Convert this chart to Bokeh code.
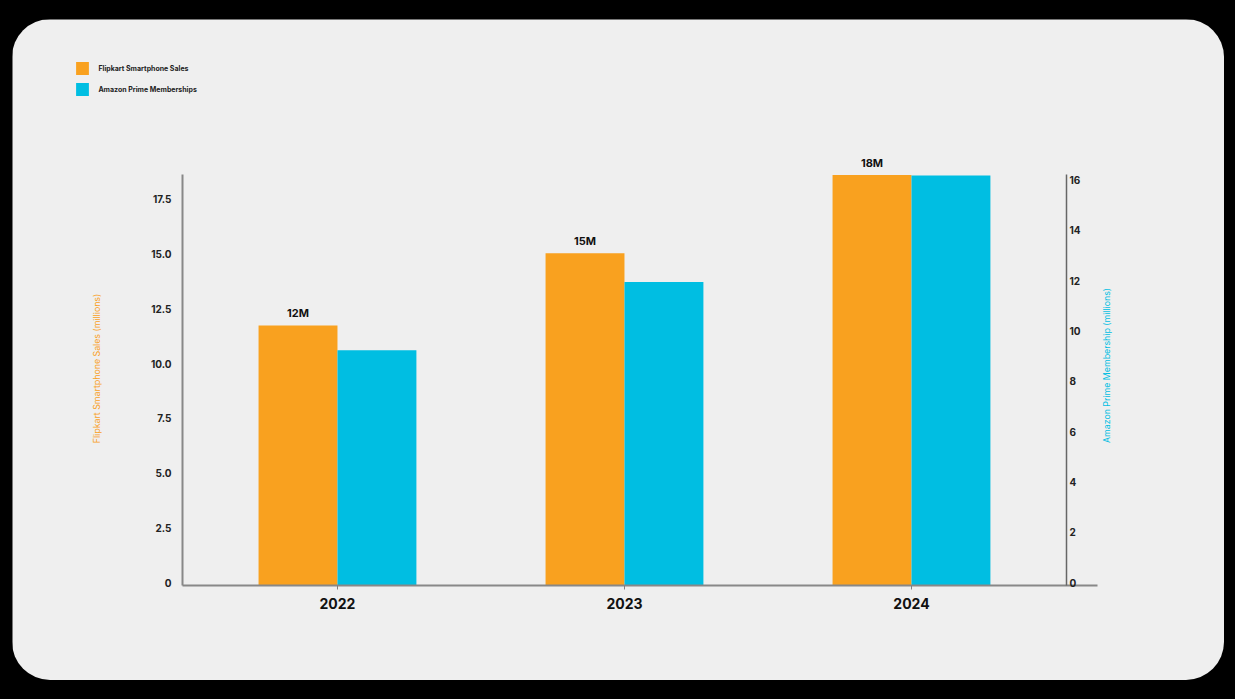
from math import pi
from bokeh.plotting import figure
from bokeh.models import (ColumnDataSource, Range1d, LinearAxis, FixedTicker, Legend,
                          LegendItem, LabelSet, Label, GlobalInlineStyleSheet)
from bokeh.core.properties import value
from bokeh.transform import dodge
from bokeh.embed import file_html
from bokeh.resources import INLINE

# ---------------- data ----------------
years = ["2022", "2023", "2024"]
flipkart_sales = [11.88, 15.18, 18.75]      # millions (left axis)
prime_members = [9.35, 12.07, 16.3]         # millions (right axis)
value_labels = ["12M", "15M", "18M"]
left_ticks = [0, 2.5, 5, 7.5, 10, 12.5, 15, 17.5]
left_tick_labels = ["0", "2.5", "5.0", "7.5", "10.0", "12.5", "15.0", "17.5"]
right_ticks = [0, 2, 4, 6, 8, 10, 12, 14, 16]
right_tick_labels = ["0", "2", "4", "6", "8", "10", "12", "14", "16"]
series_names = ["Flipkart Smartphone Sales", "Amazon Prime Memberships"]
left_title = "Flipkart Smartphone Sales (millions)"
right_title = "Amazon Prime Membership (millions)"

# ---------------- style / layout ----------------
ORANGE = "#F9A11F"
CYAN = "#00BEE2"
PANEL = "#EFEFEF"
FONT = "Inter"
W, H = 1212, 661                 # panel size (page offset 12, 19)
PX_X = 287.0                     # px per category
X0_PX = 170.0                    # left axis position within panel
Y0_PX = 566.0                    # baseline position within panel
PX_L = 21.89                     # px per unit, left axis
PX_R = 25.15                     # px per unit, right axis
LBL_SHIFT = 3.0                  # tick labels sit slightly above the bar scale

x_left = -0.54
x_start = x_left - X0_PX / PX_X
x_end = x_left + (W - X0_PX) / PX_X
right_axis_x = 2.54
x_axis_end = 2.648
yl_start, yl_end = -(H - Y0_PX) / PX_L, Y0_PX / PX_L
yr_start, yr_end = -(H - Y0_PX) / PX_R, Y0_PX / PX_R
left_top, right_top = 18.78, 16.33

src = ColumnDataSource(dict(
    x=list(range(len(years))),
    sales=flipkart_sales,
    prime=prime_members,
    lbl=value_labels,
))

p = figure(width=W, height=H,
           x_range=Range1d(x_start, x_end), y_range=Range1d(yl_start, yl_end),
           output_backend="svg", toolbar_location=None,
           min_border_left=0, min_border_right=0,
           min_border_top=0, min_border_bottom=0,
           background_fill_color=PANEL, border_fill_color=PANEL)
p.outline_line_color = None
p.margin = (19, 11, 19, 12)
p.styles = {"border-radius": "38px", "overflow": "hidden"}
p.stylesheets = [GlobalInlineStyleSheet(
    css="html, body { margin: 0 !important; padding: 0; background: #000000; overflow: hidden; }")]

dl = LBL_SHIFT / PX_L
dr = LBL_SHIFT / PX_R
p.extra_y_ranges = {
    "right": Range1d(yr_start, yr_end),
    "left_ticks": Range1d(yl_start - dl, yl_end - dl),
    "right_ticks": Range1d(yr_start - dr, yr_end - dr),
}
p.xgrid.visible = False
p.ygrid.visible = False

bw = 0.275
r1 = p.vbar(x=dodge("x", -bw / 2), top="sales", width=bw, source=src,
            fill_color=ORANGE, line_color=None)
r2 = p.vbar(x=dodge("x", bw / 2), top="prime", width=bw, source=src,
            fill_color=CYAN, line_color=None, y_range_name="right")

# value labels above orange bars
p.add_layout(LabelSet(x=dodge("x", -bw / 2), y="sales", text="lbl", source=src,
                      y_offset=5, text_align="center", text_baseline="bottom",
                      text_font=value(FONT), text_font_size="11px", text_font_style="bold",
                      text_color="#111111"))

# x axis (drawn at y = 0)
xa = p.xaxis[0]
xa.fixed_location = 0
xa.bounds = (x_left, x_axis_end)
xa.ticker = FixedTicker(ticks=list(range(len(years))))
xa.major_label_overrides = {i: y for i, y in enumerate(years)}
xa.minor_tick_line_color = None
xa.major_tick_out = 4
xa.major_tick_in = 0
xa.major_tick_line_color = "#808080"
xa.axis_line_color = "#888888"
xa.axis_line_width = 2
xa.major_label_standoff = 8
xa.major_label_text_font = FONT
xa.major_label_text_font_size = "14px"
xa.major_label_text_font_style = "bold"
xa.major_label_text_color = "#111111"

# left axis
ya = p.yaxis[0]
ya.y_range_name = "left_ticks"
ya.fixed_location = x_left
ya.bounds = (-dl, left_top - dl)
ya.ticker = FixedTicker(ticks=left_ticks)
ya.major_label_overrides = {t: l for t, l in zip(left_ticks, left_tick_labels)}
ya.minor_tick_line_color = None
ya.major_tick_line_color = None
ya.major_tick_out = 0
ya.major_tick_in = 0
ya.axis_line_color = "#888888"
ya.axis_line_width = 2
ya.major_label_standoff = 11
ya.major_label_text_font = FONT
ya.major_label_text_font_size = "10px"
ya.major_label_text_font_style = "bold"
ya.major_label_text_color = "#222222"

# right axis
ra = LinearAxis(y_range_name="right_ticks", fixed_location=right_axis_x,
                bounds=(-dr, right_top - dr), ticker=FixedTicker(ticks=right_ticks))
ra.major_label_overrides = {t: l for t, l in zip(right_ticks, right_tick_labels)}
ra.minor_tick_line_color = None
ra.major_tick_line_color = None
ra.major_tick_out = 0
ra.major_tick_in = 0
ra.axis_line_color = "#666666"
ra.axis_line_width = 1.5
ra.major_label_standoff = 3
ra.major_label_text_font = FONT
ra.major_label_text_font_size = "10px"
ra.major_label_text_font_style = "bold"
ra.major_label_text_color = "#222222"
p.add_layout(ra, "right")

# axis titles
p.add_layout(Label(x=84, y=312, x_units="screen", y_units="screen", text=left_title,
                   angle=pi / 2, text_align="center", text_baseline="middle",
                   text_font=FONT, text_font_size="8.8px", text_color=ORANGE))
p.add_layout(Label(x=1094, y=315, x_units="screen", y_units="screen", text=right_title,
                   angle=pi / 2, text_align="center", text_baseline="middle",
                   text_font=FONT, text_font_size="8.8px", text_color=CYAN))

# legend
legend = Legend(items=[LegendItem(label=series_names[0], renderers=[r1]),
                       LegendItem(label=series_names[1], renderers=[r2])],
                location=(62.4, 583), orientation="vertical",
                glyph_width=16, glyph_height=16, label_standoff=8, spacing=5,
                padding=0, margin=0, border_line_color=None,
                background_fill_alpha=0,
                label_text_font=FONT, label_text_font_size="7px",
                label_text_font_style="bold", label_text_color="#222222",
                label_height=16)
p.add_layout(legend, "center")

open("out.html", "w").write(file_html(p, INLINE))
